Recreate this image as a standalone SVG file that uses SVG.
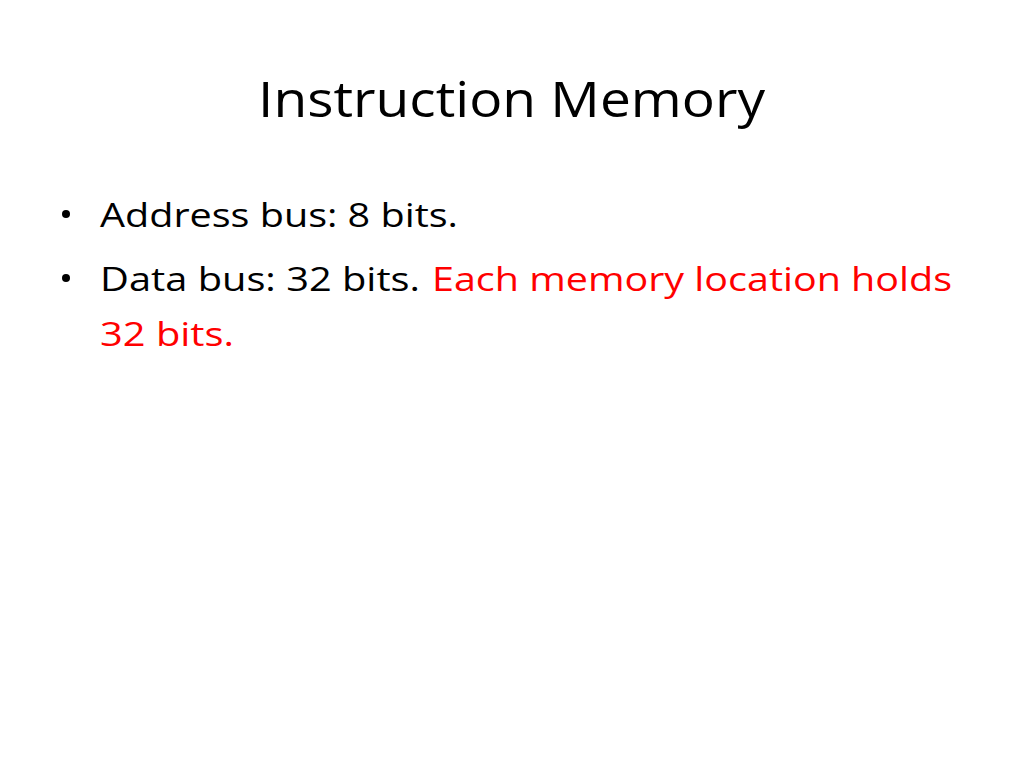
<svg xmlns="http://www.w3.org/2000/svg" width="1024" height="768" viewBox="0 0 1024 768">
<style>
text{font-family:"Open Sans","Noto Sans","Liberation Sans",sans-serif;fill:#000}
.b{font-size:33px}
.r{fill:#ff0000}
</style>
<rect width="1024" height="768" fill="#fff"/>
<g id="title"><text x="258" y="117" font-size="50" textLength="507" lengthAdjust="spacingAndGlyphs">Instruction Memory</text></g>
<g id="bullets">
<circle cx="66" cy="214" r="4" fill="#000"/>
<text class="b" x="100" y="227" textLength="358" lengthAdjust="spacingAndGlyphs">Address bus: 8 bits.</text>
<circle cx="66" cy="278" r="4" fill="#000"/>
<text class="b" x="100" y="291" textLength="320" lengthAdjust="spacingAndGlyphs">Data bus: 32 bits.</text>
<text class="b r" x="432" y="291" textLength="520" lengthAdjust="spacingAndGlyphs">Each memory location holds</text>
<text class="b r" x="100" y="346" textLength="134" lengthAdjust="spacingAndGlyphs">32 bits.</text>
</g>
</svg>
